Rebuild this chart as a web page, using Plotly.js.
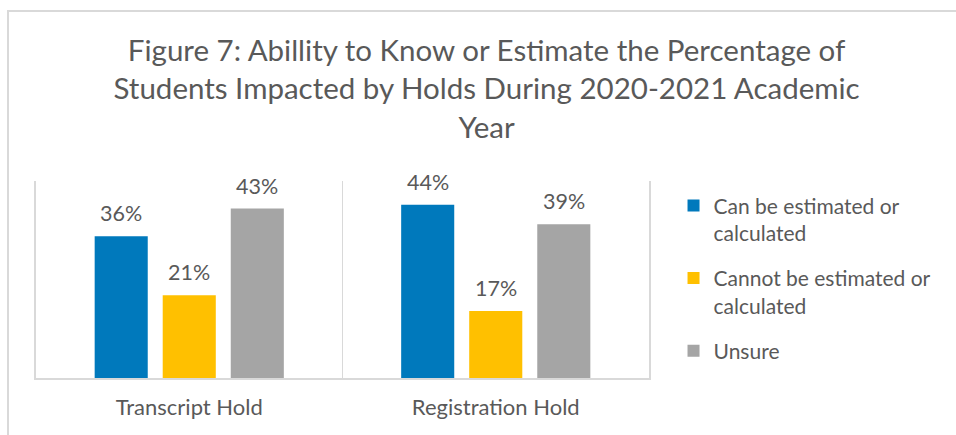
<!DOCTYPE html>
<html><head><meta charset="utf-8">
<script src="https://cdn.plot.ly/plotly-3.0.1.min.js"></script>
<style>
html,body{margin:0;padding:0;background:#fff;}
#wrap{position:relative;width:956px;height:435px;}
#frame{position:absolute;left:7px;top:10px;width:960px;height:440px;border-left:2px solid #d9d9d9;border-top:2px solid #d9d9d9;pointer-events:none;}
</style></head>
<body><div id="wrap"><div id="chart" style="width:956px;height:435px;"></div><div id="frame"></div></div>
<script>
const categories = ["Transcript Hold", "Registration Hold"];
const seriesNames = ["Can be estimated or<br>calculated", "Cannot be estimated or<br>calculated", "Unsure"];
const canEstimate = [0.36, 0.44];
const cannotEstimate = [0.21, 0.17];
const unsure = [0.43, 0.39];
const colors = ["#0079BC", "#FFC000", "#A5A5A5"];

const seriesValues = [canEstimate, cannotEstimate, unsure];
const bargap = 0.334;
const slot = (1 - bargap) / 3;
const font = "Lato, 'Open Sans', sans-serif";
const textColor = "#595959";

const traces = seriesValues.map((vals, i) => ({
  type: "bar", x: categories, y: vals, name: seriesNames[i], legendgroup: "g" + i,
  marker: {color: colors[i]}, hoverinfo: "none"
}));

const annotations = [];
seriesValues.forEach((vals, i) => {
  vals.forEach((v, j) => {
    annotations.push({
      xref: "x", yref: "y", x: j + (i - 1) * slot, y: v,
      text: Math.round(v * 100) + "%", showarrow: false,
      yanchor: "bottom", yshift: 8,
      font: {family: font, size: 21.5, color: textColor}
    });
  });
});

const layout = {
  width: 956, height: 435,
  margin: {l: 36, r: 307, t: 181, b: 57},
  paper_bgcolor: "#fff", plot_bgcolor: "#fff",
  title: {
    text: "Figure 7: Abillity to Know or Estimate the Percentage of<br>Students Impacted by Holds During 2020-2021 Academic<br>Year",
    font: {family: font, size: 29.5, color: textColor},
    xref: "container", x: 0.509, xanchor: "center",
    yref: "container", y: 0.86, yanchor: "top"
  },
  barmode: "group", bargap: bargap, bargroupgap: 0.22,
  xaxis: {
    type: "category", tickson: "boundaries", showgrid: true, gridcolor: "#d9d9d9", gridwidth: 1.5,
    showline: true, linecolor: "#d9d9d9", linewidth: 2, ticks: "",
    tickfont: {family: font, size: 22, color: textColor}, ticklabelstandoff: 9, zeroline: false
  },
  yaxis: {
    range: [0, 0.5], showticklabels: false, showgrid: false, zeroline: false,
    showline: true, mirror: true, linecolor: "#d9d9d9", linewidth: 2, ticks: ""
  },
  showlegend: true,
  legend: {
    x: 1.04, xanchor: "left", y: 0.978, yanchor: "top", valign: "top",
    font: {family: font, size: 21, color: textColor}, itemwidth: 30, traceorder: "grouped",
    tracegroupgap: 15, bgcolor: "rgba(0,0,0,0)"
  },
  annotations: annotations
};
Plotly.newPlot("chart", traces, layout, {staticPlot: true, displayModeBar: false});
</script></body></html>
